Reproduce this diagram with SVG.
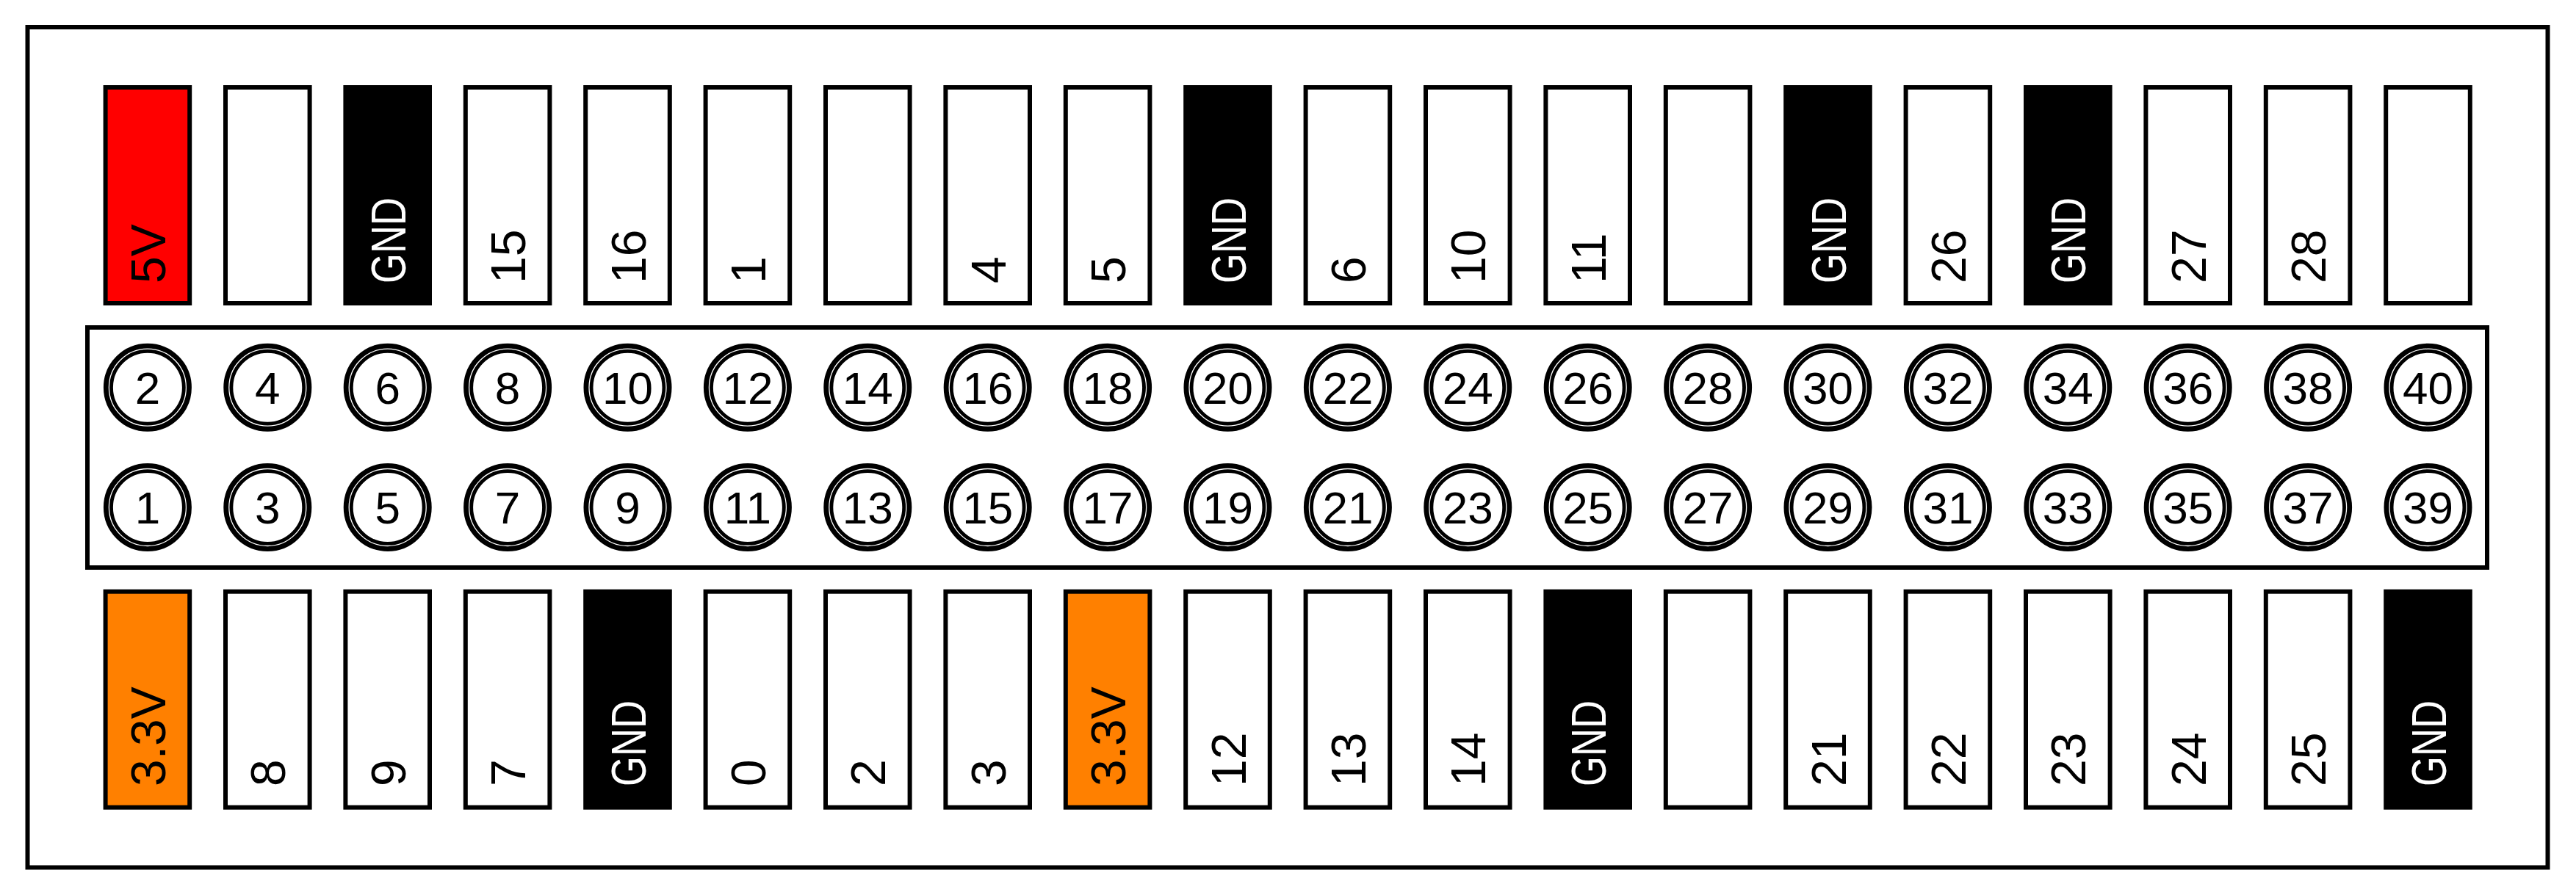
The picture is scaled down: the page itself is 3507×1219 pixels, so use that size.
<svg xmlns="http://www.w3.org/2000/svg" width="3507" height="1219" viewBox="0 0 3507 1219">
<style>
.bg{fill:#ffffff}
.frame{fill:none;stroke:#000;stroke-width:6}
.box{fill:#ffffff;stroke:#000;stroke-width:6}
.p{fill:#ffffff;stroke:#000;stroke-width:6}
.gnd{fill:#000;stroke:#000;stroke-width:6}
.v5{fill:#ff0000;stroke:#000;stroke-width:6}
.v33{fill:#ff8000;stroke:#000;stroke-width:6}
.l{font-family:"Liberation Sans",Arial,sans-serif;font-size:66px;fill:#000}
.lw{font-family:"Liberation Sans",Arial,sans-serif;font-size:66px;fill:#fff}
.ho{fill:#fff;stroke:#000;stroke-width:13}
.hi{fill:none;stroke:#fff;stroke-width:1.3}
.n{font-family:"Liberation Sans",Arial,sans-serif;font-size:62px;fill:#000;text-anchor:middle}
</style>
<defs>
<g id="hole"><circle class="ho" r="53.5"/><circle class="hi" r="52.5"/></g>
</defs>
<rect class="bg" x="0" y="0" width="3507" height="1219"/>
<g id="board"><rect class="frame" x="37.5" y="37" width="3431" height="1144.5"/></g>
<g id="header"><rect class="box" x="119" y="446" width="3267" height="327"/></g>

<g id="labels-top">
<g id="lt2"><rect class="v5" x="143.6" y="119" width="114.6" height="294"/><text class="l" transform="translate(224.9,386) rotate(-90)">5V</text></g>
<g id="lt4"><rect class="p" x="307.0" y="119" width="114.6" height="294"/></g>
<g id="lt6"><rect class="gnd" x="470.4" y="119" width="114.6" height="294"/><text class="lw" textLength="117" lengthAdjust="spacingAndGlyphs" transform="translate(551.7,386) rotate(-90)">GND</text></g>
<g id="lt8"><rect class="p" x="633.8" y="119" width="114.6" height="294"/><text class="l" transform="translate(715.1,386) rotate(-90)">15</text></g>
<g id="lt10"><rect class="p" x="797.2" y="119" width="114.6" height="294"/><text class="l" transform="translate(878.5,386) rotate(-90)">16</text></g>
<g id="lt12"><rect class="p" x="960.6" y="119" width="114.6" height="294"/><text class="l" transform="translate(1041.9,386) rotate(-90)">1</text></g>
<g id="lt14"><rect class="p" x="1124.0" y="119" width="114.6" height="294"/></g>
<g id="lt16"><rect class="p" x="1287.4" y="119" width="114.6" height="294"/><text class="l" transform="translate(1368.7,386) rotate(-90)">4</text></g>
<g id="lt18"><rect class="p" x="1450.8" y="119" width="114.6" height="294"/><text class="l" transform="translate(1532.1,386) rotate(-90)">5</text></g>
<g id="lt20"><rect class="gnd" x="1614.2" y="119" width="114.6" height="294"/><text class="lw" textLength="117" lengthAdjust="spacingAndGlyphs" transform="translate(1695.5,386) rotate(-90)">GND</text></g>
<g id="lt22"><rect class="p" x="1777.6" y="119" width="114.6" height="294"/><text class="l" transform="translate(1858.9,386) rotate(-90)">6</text></g>
<g id="lt24"><rect class="p" x="1941.0" y="119" width="114.6" height="294"/><text class="l" transform="translate(2022.3,386) rotate(-90)">10</text></g>
<g id="lt26"><rect class="p" x="2104.4" y="119" width="114.6" height="294"/><text class="l" transform="translate(2185.7,386) rotate(-90)">11</text></g>
<g id="lt28"><rect class="p" x="2267.8" y="119" width="114.6" height="294"/></g>
<g id="lt30"><rect class="gnd" x="2431.2" y="119" width="114.6" height="294"/><text class="lw" textLength="117" lengthAdjust="spacingAndGlyphs" transform="translate(2512.5,386) rotate(-90)">GND</text></g>
<g id="lt32"><rect class="p" x="2594.6" y="119" width="114.6" height="294"/><text class="l" transform="translate(2675.9,386) rotate(-90)">26</text></g>
<g id="lt34"><rect class="gnd" x="2758.0" y="119" width="114.6" height="294"/><text class="lw" textLength="117" lengthAdjust="spacingAndGlyphs" transform="translate(2839.3,386) rotate(-90)">GND</text></g>
<g id="lt36"><rect class="p" x="2921.4" y="119" width="114.6" height="294"/><text class="l" transform="translate(3002.7,386) rotate(-90)">27</text></g>
<g id="lt38"><rect class="p" x="3084.8" y="119" width="114.6" height="294"/><text class="l" transform="translate(3166.1,386) rotate(-90)">28</text></g>
<g id="lt40"><rect class="p" x="3248.2" y="119" width="114.6" height="294"/></g>
</g>

<g id="labels-bottom">
<g id="lb1"><rect class="v33" x="143.6" y="805.7" width="114.6" height="294"/><text class="l" transform="translate(224.9,1071) rotate(-90)">3.3V</text></g>
<g id="lb3"><rect class="p" x="307.0" y="805.7" width="114.6" height="294"/><text class="l" transform="translate(388.3,1071) rotate(-90)">8</text></g>
<g id="lb5"><rect class="p" x="470.4" y="805.7" width="114.6" height="294"/><text class="l" transform="translate(551.7,1071) rotate(-90)">9</text></g>
<g id="lb7"><rect class="p" x="633.8" y="805.7" width="114.6" height="294"/><text class="l" transform="translate(715.1,1071) rotate(-90)">7</text></g>
<g id="lb9"><rect class="gnd" x="797.2" y="805.7" width="114.6" height="294"/><text class="lw" textLength="117" lengthAdjust="spacingAndGlyphs" transform="translate(878.5,1071) rotate(-90)">GND</text></g>
<g id="lb11"><rect class="p" x="960.6" y="805.7" width="114.6" height="294"/><text class="l" transform="translate(1041.9,1071) rotate(-90)">0</text></g>
<g id="lb13"><rect class="p" x="1124.0" y="805.7" width="114.6" height="294"/><text class="l" transform="translate(1205.3,1071) rotate(-90)">2</text></g>
<g id="lb15"><rect class="p" x="1287.4" y="805.7" width="114.6" height="294"/><text class="l" transform="translate(1368.7,1071) rotate(-90)">3</text></g>
<g id="lb17"><rect class="v33" x="1450.8" y="805.7" width="114.6" height="294"/><text class="l" transform="translate(1532.1,1071) rotate(-90)">3.3V</text></g>
<g id="lb19"><rect class="p" x="1614.2" y="805.7" width="114.6" height="294"/><text class="l" transform="translate(1695.5,1071) rotate(-90)">12</text></g>
<g id="lb21"><rect class="p" x="1777.6" y="805.7" width="114.6" height="294"/><text class="l" transform="translate(1858.9,1071) rotate(-90)">13</text></g>
<g id="lb23"><rect class="p" x="1941.0" y="805.7" width="114.6" height="294"/><text class="l" transform="translate(2022.3,1071) rotate(-90)">14</text></g>
<g id="lb25"><rect class="gnd" x="2104.4" y="805.7" width="114.6" height="294"/><text class="lw" textLength="117" lengthAdjust="spacingAndGlyphs" transform="translate(2185.7,1071) rotate(-90)">GND</text></g>
<g id="lb27"><rect class="p" x="2267.8" y="805.7" width="114.6" height="294"/></g>
<g id="lb29"><rect class="p" x="2431.2" y="805.7" width="114.6" height="294"/><text class="l" transform="translate(2512.5,1071) rotate(-90)">21</text></g>
<g id="lb31"><rect class="p" x="2594.6" y="805.7" width="114.6" height="294"/><text class="l" transform="translate(2675.9,1071) rotate(-90)">22</text></g>
<g id="lb33"><rect class="p" x="2758.0" y="805.7" width="114.6" height="294"/><text class="l" transform="translate(2839.3,1071) rotate(-90)">23</text></g>
<g id="lb35"><rect class="p" x="2921.4" y="805.7" width="114.6" height="294"/><text class="l" transform="translate(3002.7,1071) rotate(-90)">24</text></g>
<g id="lb37"><rect class="p" x="3084.8" y="805.7" width="114.6" height="294"/><text class="l" transform="translate(3166.1,1071) rotate(-90)">25</text></g>
<g id="lb39"><rect class="gnd" x="3248.2" y="805.7" width="114.6" height="294"/><text class="lw" textLength="117" lengthAdjust="spacingAndGlyphs" transform="translate(3329.5,1071) rotate(-90)">GND</text></g>
</g>

<g id="pins-even">
<g id="pin2"><use href="#hole" x="200.9" y="527.7"/><text class="n" x="200.9" y="550">2</text></g>
<g id="pin4"><use href="#hole" x="364.3" y="527.7"/><text class="n" x="364.3" y="550">4</text></g>
<g id="pin6"><use href="#hole" x="527.7" y="527.7"/><text class="n" x="527.7" y="550">6</text></g>
<g id="pin8"><use href="#hole" x="691.1" y="527.7"/><text class="n" x="691.1" y="550">8</text></g>
<g id="pin10"><use href="#hole" x="854.5" y="527.7"/><text class="n" x="854.5" y="550">10</text></g>
<g id="pin12"><use href="#hole" x="1017.9" y="527.7"/><text class="n" x="1017.9" y="550">12</text></g>
<g id="pin14"><use href="#hole" x="1181.3" y="527.7"/><text class="n" x="1181.3" y="550">14</text></g>
<g id="pin16"><use href="#hole" x="1344.7" y="527.7"/><text class="n" x="1344.7" y="550">16</text></g>
<g id="pin18"><use href="#hole" x="1508.1" y="527.7"/><text class="n" x="1508.1" y="550">18</text></g>
<g id="pin20"><use href="#hole" x="1671.5" y="527.7"/><text class="n" x="1671.5" y="550">20</text></g>
<g id="pin22"><use href="#hole" x="1834.9" y="527.7"/><text class="n" x="1834.9" y="550">22</text></g>
<g id="pin24"><use href="#hole" x="1998.3" y="527.7"/><text class="n" x="1998.3" y="550">24</text></g>
<g id="pin26"><use href="#hole" x="2161.7" y="527.7"/><text class="n" x="2161.7" y="550">26</text></g>
<g id="pin28"><use href="#hole" x="2325.1" y="527.7"/><text class="n" x="2325.1" y="550">28</text></g>
<g id="pin30"><use href="#hole" x="2488.5" y="527.7"/><text class="n" x="2488.5" y="550">30</text></g>
<g id="pin32"><use href="#hole" x="2651.9" y="527.7"/><text class="n" x="2651.9" y="550">32</text></g>
<g id="pin34"><use href="#hole" x="2815.3" y="527.7"/><text class="n" x="2815.3" y="550">34</text></g>
<g id="pin36"><use href="#hole" x="2978.7" y="527.7"/><text class="n" x="2978.7" y="550">36</text></g>
<g id="pin38"><use href="#hole" x="3142.1" y="527.7"/><text class="n" x="3142.1" y="550">38</text></g>
<g id="pin40"><use href="#hole" x="3305.5" y="527.7"/><text class="n" x="3305.5" y="550">40</text></g>
</g>

<g id="pins-odd">
<g id="pin1"><use href="#hole" x="200.9" y="691"/><text class="n" x="200.9" y="713.3">1</text></g>
<g id="pin3"><use href="#hole" x="364.3" y="691"/><text class="n" x="364.3" y="713.3">3</text></g>
<g id="pin5"><use href="#hole" x="527.7" y="691"/><text class="n" x="527.7" y="713.3">5</text></g>
<g id="pin7"><use href="#hole" x="691.1" y="691"/><text class="n" x="691.1" y="713.3">7</text></g>
<g id="pin9"><use href="#hole" x="854.5" y="691"/><text class="n" x="854.5" y="713.3">9</text></g>
<g id="pin11"><use href="#hole" x="1017.9" y="691"/><text class="n" x="1017.9" y="713.3">11</text></g>
<g id="pin13"><use href="#hole" x="1181.3" y="691"/><text class="n" x="1181.3" y="713.3">13</text></g>
<g id="pin15"><use href="#hole" x="1344.7" y="691"/><text class="n" x="1344.7" y="713.3">15</text></g>
<g id="pin17"><use href="#hole" x="1508.1" y="691"/><text class="n" x="1508.1" y="713.3">17</text></g>
<g id="pin19"><use href="#hole" x="1671.5" y="691"/><text class="n" x="1671.5" y="713.3">19</text></g>
<g id="pin21"><use href="#hole" x="1834.9" y="691"/><text class="n" x="1834.9" y="713.3">21</text></g>
<g id="pin23"><use href="#hole" x="1998.3" y="691"/><text class="n" x="1998.3" y="713.3">23</text></g>
<g id="pin25"><use href="#hole" x="2161.7" y="691"/><text class="n" x="2161.7" y="713.3">25</text></g>
<g id="pin27"><use href="#hole" x="2325.1" y="691"/><text class="n" x="2325.1" y="713.3">27</text></g>
<g id="pin29"><use href="#hole" x="2488.5" y="691"/><text class="n" x="2488.5" y="713.3">29</text></g>
<g id="pin31"><use href="#hole" x="2651.9" y="691"/><text class="n" x="2651.9" y="713.3">31</text></g>
<g id="pin33"><use href="#hole" x="2815.3" y="691"/><text class="n" x="2815.3" y="713.3">33</text></g>
<g id="pin35"><use href="#hole" x="2978.7" y="691"/><text class="n" x="2978.7" y="713.3">35</text></g>
<g id="pin37"><use href="#hole" x="3142.1" y="691"/><text class="n" x="3142.1" y="713.3">37</text></g>
<g id="pin39"><use href="#hole" x="3305.5" y="691"/><text class="n" x="3305.5" y="713.3">39</text></g>
</g>
</svg>
